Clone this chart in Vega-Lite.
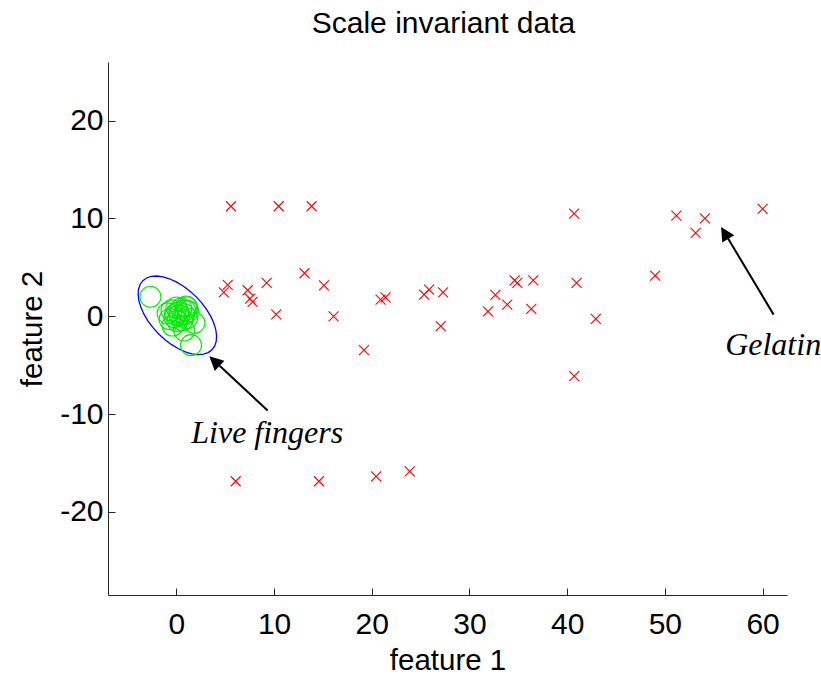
{
  "$schema": "https://vega.github.io/schema/vega-lite/v6.json",
  "width": 679,
  "height": 533,
  "autosize": {"type": "none"},
  "padding": {"left": 108, "top": 62, "right": 34, "bottom": 82},
  "background": "white",
  "config": {
    "view": {"stroke": null},
    "font": "Liberation Sans",
    "axis": {
      "grid": false,
      "domainColor": "#262626",
      "domainWidth": 1,
      "tickColor": "#262626",
      "tickWidth": 1,
      "tickSize": -7,
      "labelFont": "Liberation Sans",
      "labelFontSize": 30,
      "labelColor": "#000000",
      "titleFont": "Liberation Sans",
      "titleFontSize": 29.5,
      "titleFontWeight": "normal",
      "titleColor": "#000000",
      "labelExpr": "'' + datum.value"
    }
  },
  "title": {
    "text": "Scale invariant data",
    "font": "Liberation Sans",
    "fontSize": 30,
    "fontWeight": "normal",
    "color": "#000000",
    "offset": 23,
    "dx": -4
  },
  "datasets": {
    "ellipse": [
      {"ord": 0, "x": 3.636, "y": -3.436}, {"ord": 1, "x": 3.913, "y": -3.050}, {"ord": 2, "x": 4.075, "y": -2.569},
      {"ord": 3, "x": 4.116, "y": -2.007}, {"ord": 4, "x": 4.035, "y": -1.381}, {"ord": 5, "x": 3.835, "y": -0.710},
      {"ord": 6, "x": 3.521, "y": -0.015}, {"ord": 7, "x": 3.103, "y": 0.685}, {"ord": 8, "x": 2.594, "y": 1.366},
      {"ord": 9, "x": 2.009, "y": 2.009}, {"ord": 10, "x": 1.366, "y": 2.594}, {"ord": 11, "x": 0.685, "y": 3.103},
      {"ord": 12, "x": -0.015, "y": 3.521}, {"ord": 13, "x": -0.710, "y": 3.835}, {"ord": 14, "x": -1.381, "y": 4.035},
      {"ord": 15, "x": -2.007, "y": 4.116}, {"ord": 16, "x": -2.569, "y": 4.075}, {"ord": 17, "x": -3.050, "y": 3.913},
      {"ord": 18, "x": -3.436, "y": 3.636}, {"ord": 19, "x": -3.713, "y": 3.250}, {"ord": 20, "x": -3.875, "y": 2.769},
      {"ord": 21, "x": -3.916, "y": 2.207}, {"ord": 22, "x": -3.835, "y": 1.581}, {"ord": 23, "x": -3.635, "y": 0.910},
      {"ord": 24, "x": -3.321, "y": 0.215}, {"ord": 25, "x": -2.903, "y": -0.485}, {"ord": 26, "x": -2.394, "y": -1.166},
      {"ord": 27, "x": -1.809, "y": -1.809}, {"ord": 28, "x": -1.166, "y": -2.394}, {"ord": 29, "x": -0.485, "y": -2.903},
      {"ord": 30, "x": 0.215, "y": -3.321}, {"ord": 31, "x": 0.910, "y": -3.635}, {"ord": 32, "x": 1.581, "y": -3.835},
      {"ord": 33, "x": 2.207, "y": -3.916}, {"ord": 34, "x": 2.769, "y": -3.875}, {"ord": 35, "x": 3.250, "y": -3.713},
      {"ord": 36, "x": 3.636, "y": -3.436}
    ],
    "live": [
      {"x": -2.66, "y": 2.0}, {"x": 1.5, "y": -2.95}, {"x": 1.84, "y": -0.68}, {"x": -0.9, "y": 0.3},
      {"x": -0.5, "y": 0.6}, {"x": 0.0, "y": 0.9}, {"x": 0.5, "y": 0.8}, {"x": 1.0, "y": 1.0},
      {"x": 1.2, "y": 0.5}, {"x": 0.8, "y": 0.2}, {"x": 0.3, "y": 0.1}, {"x": -0.2, "y": -0.1},
      {"x": -0.7, "y": -0.3}, {"x": 0.1, "y": -0.5}, {"x": 0.6, "y": -0.4}, {"x": 1.1, "y": -0.2},
      {"x": -0.4, "y": -0.95}, {"x": 0.8, "y": -1.45}, {"x": 0.2, "y": 0.4}, {"x": -0.1, "y": 0.2},
      {"x": 0.9, "y": 0.6}, {"x": 1.1, "y": 0.9}
    ],
    "gelatin": [
      {"x": 5.59, "y": 11.25}, {"x": 10.47, "y": 11.25}, {"x": 13.84, "y": 11.25}, {"x": 13.12, "y": 4.40},
      {"x": 9.24, "y": 3.41}, {"x": 15.1, "y": 3.17}, {"x": 5.25, "y": 3.21}, {"x": 4.85, "y": 2.45},
      {"x": 7.3, "y": 2.66}, {"x": 7.53, "y": 1.81}, {"x": 7.8, "y": 1.47}, {"x": 10.22, "y": 0.2},
      {"x": 16.09, "y": 0.0}, {"x": 19.2, "y": -3.45}, {"x": 20.9, "y": 1.7}, {"x": 21.4, "y": 1.94},
      {"x": 25.35, "y": 2.22}, {"x": 25.86, "y": 2.73}, {"x": 27.3, "y": 2.45}, {"x": 27.06, "y": -1.0},
      {"x": 31.9, "y": 0.51}, {"x": 32.65, "y": 2.19}, {"x": 33.87, "y": 1.2}, {"x": 34.62, "y": 3.68},
      {"x": 34.9, "y": 3.41}, {"x": 36.53, "y": 3.68}, {"x": 36.33, "y": 0.75}, {"x": 40.72, "y": 10.5},
      {"x": 40.96, "y": 3.41}, {"x": 42.93, "y": -0.27}, {"x": 40.72, "y": -6.13}, {"x": 49.0, "y": 4.16},
      {"x": 51.18, "y": 10.3}, {"x": 53.15, "y": 8.53}, {"x": 54.1, "y": 10.02}, {"x": 60.0, "y": 10.98},
      {"x": 6.07, "y": -16.87}, {"x": 14.59, "y": -16.87}, {"x": 20.44, "y": -16.36}, {"x": 23.89, "y": -15.85}
    ],
    "arrows": [
      {"x": 9.34, "y": -9.64, "x2": 3.90, "y2": -4.58, "tx": 3.37, "ty": -4.09, "angle": 313},
      {"x": 61.13, "y": 0.17, "x2": 56.12, "y2": 8.53, "tx": 55.75, "ty": 9.14, "angle": 329}
    ],
    "labels": [
      {"x": 1.52, "y": -12.91, "label": "Live fingers"},
      {"x": 56.17, "y": -3.91, "label": "Gelatin"}
    ]
  },
  "encoding": {
    "x": {
      "field": "x", "type": "quantitative",
      "scale": {"domain": [-7, 62.5], "nice": false, "zero": false},
      "axis": {"title": "feature 1", "values": [0, 10, 20, 30, 40, 50, 60], "labelPadding": 21, "titlePadding": 7}
    },
    "y": {
      "field": "y", "type": "quantitative",
      "scale": {"domain": [-28.5, 26], "nice": false, "zero": false},
      "axis": {"title": "feature 2", "values": [-20, -10, 0, 10, 20], "labelPadding": 12, "titlePadding": 12}
    }
  },
  "layer": [
    {
      "data": {"name": "ellipse"},
      "mark": {"type": "line", "color": "#0000ff", "strokeWidth": 1.3},
      "encoding": {"order": {"field": "ord", "type": "quantitative"}}
    },
    {
      "data": {"name": "live"},
      "mark": {"type": "point", "shape": "circle", "filled": false, "color": "#00ee00", "strokeWidth": 1.1, "size": 441, "opacity": 1}
    },
    {
      "data": {"name": "gelatin"},
      "mark": {"type": "point", "shape": "M-1,-1L1,1M-1,1L1,-1", "filled": false, "color": "#ff0000", "strokeWidth": 1.1, "size": 100, "opacity": 1}
    },
    {
      "data": {"name": "arrows"},
      "mark": {"type": "rule", "color": "#000000", "strokeWidth": 2},
      "encoding": {
        "x2": {"field": "x2"},
        "y2": {"field": "y2"}
      }
    },
    {
      "data": {"name": "arrows"},
      "mark": {"type": "point", "shape": "M0,0L-0.5,1L0.5,1Z", "filled": true, "color": "#000000", "size": 784, "opacity": 1},
      "encoding": {
        "x": {"field": "tx", "type": "quantitative"},
        "y": {"field": "ty", "type": "quantitative"},
        "angle": {"field": "angle", "type": "quantitative", "scale": null}
      }
    },
    {
      "data": {"name": "labels"},
      "mark": {"type": "text", "font": "Liberation Serif", "fontStyle": "italic", "fontSize": 32, "align": "left", "baseline": "alphabetic", "color": "#000000"},
      "encoding": {"text": {"field": "label"}}
    }
  ]
}
